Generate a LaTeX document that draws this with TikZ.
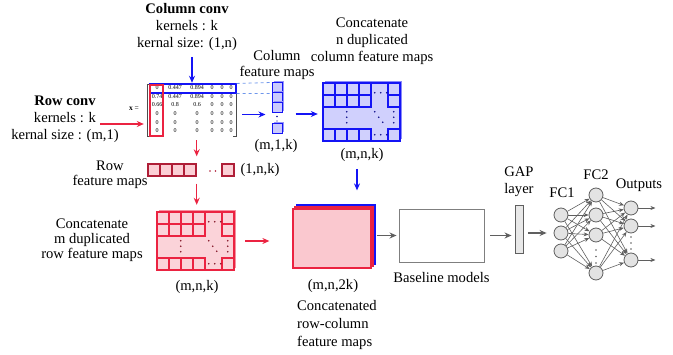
\documentclass[tikz,border=0pt]{standalone}
\usepackage{fontspec}
\setmainfont{Liberation Serif}
\usetikzlibrary{arrows.meta,shadows}

\definecolor{colblue}{RGB}{20,20,245}
\definecolor{rowred}{RGB}{235,35,65}
\definecolor{rowdark}{RGB}{175,30,55}
\definecolor{dashblue}{RGB}{110,150,235}
\definecolor{netgray}{RGB}{95,95,95}

\begin{document}
\begin{tikzpicture}[x=1pt, y=-1pt,
    font=\fontsize{14.6}{17}\selectfont,
    txt/.style={align=center, inner sep=0pt},
    blue arrow/.style={-{Stealth[length=7pt,width=6pt]}, colblue, line width=1.5pt},
    red arrow/.style={-{Stealth[length=7pt,width=6pt]}, rowred, line width=1.5pt},
    gray arrow/.style={-{Stealth[length=7pt,width=6pt]}, netgray, line width=1.5pt},
    num/.style={font=\fontsize{6}{7}\selectfont, inner sep=0pt},
    colcell/.style={draw=colblue, fill=colblue!22, line width=1pt, minimum size=10pt, inner sep=0pt,
        general shadow={fill=colblue!45, shadow xshift=1.5pt, shadow yshift=1.5pt}},
    rowcell/.style={draw=rowdark, fill=rowred!22, line width=1.4pt, minimum size=12pt, inner sep=0pt},
    blockarea/.style={minimum width=77pt, minimum height=58pt, inner sep=0pt},
    stack/.style={line width=1.2pt, minimum width=78pt, minimum height=59pt, inner sep=0pt},
    neuron/.style={circle, draw=netgray, fill=gray!22, line width=0.8pt, minimum size=14pt, inner sep=0pt},
    nnedge/.style={-{Stealth[length=5pt,width=4pt]}, netgray, line width=0.6pt},
    pics/featblock/.style={code={
        \fill[#1!50] (2,-2) rectangle (79,56);
        \fill[#1!20] (0,0) rectangle (77,58);
        \foreach \r in {0,12,46}
            \foreach \c in {0,12,24,36,65}
                \draw[#1, line width=1.7pt] (\c,\r) rectangle ++(12,12);
        \draw[#1, line width=1.7pt] (0,0) rectangle (77,58);
        \foreach \p in {(52,10),(58,10),(64,10),(52,52),(58,52),(64,52),
                        (24,29),(24,34.5),(24,40),(52,29),(56,34.5),(60,39.5),
                        (71,29),(71,34.5),(71,40)}
            \fill[#1!55!black] \p circle (0.9pt);
    }}]
\useasboundingbox (0,0) rectangle (673,355);

% Input matrix
\node (mat) [minimum width=88pt, minimum height=51pt, inner sep=0pt] at (192,110.5) {};
\draw[black!70, line width=0.7pt] ([xshift=3pt]mat.north west) -| (mat.south west) -- ++(3,0);
\draw[black!70, line width=0.7pt] ([xshift=-3pt]mat.north east) -| (mat.south east) -- ++(-3,0);
\foreach \y/\a/\b/\c [count=\i] in {88/0/0.447/0.894, 96.5/0.74/0.447/0.894, 105/0.66/0.8/0.6,
                                      114/0/0/0, 122.5/0/0/0, 131/0/0/0}
    \foreach \x/\v [count=\j] in {157/\a,175/\b,197/\c,212/0,222/0,231/0}
        \node[num] (m-\i-\j) at (\x,\y) {\v};
\node (xlbl) [font=\fontsize{7.5}{8}\selectfont, inner sep=0pt] at (134,109) {\textbf{x} =};
\node (rowbox) [draw=colblue, line width=1.1pt, minimum width=86pt, minimum height=9pt, inner sep=0pt] at (193,88.5) {};
\node (colbox) [draw=rowred, line width=1.1pt, minimum width=13pt, minimum height=51pt, inner sep=0pt] at (156.5,110.5) {};

% Column conv
\node[txt] (colconv) at (187,27) {\textbf{Column conv}\\kernels : k\\kernal size: (1,n)};
\draw[blue arrow, shorten <=6pt, shorten >=2pt] (colconv.south -| mat.north) -- (mat.north);

% Row conv
\node[txt] (rowconv) at (65,119.5) {\textbf{Row conv}\\kernels : k\\kernal size : (m,1)};
\coordinate (rowin) at (100,124);
\draw[red arrow, shorten >=4pt] (rowin) -- (rowin -| mat.west);

% Column feature maps
\node[colcell] (cm1) at (277,88) {};
\node[colcell] (cm2) at (277,98) {};
\node[colcell] (cm3) at (277,108) {};
\node[colcell] (cm4) at (277,129) {};
\fill[colblue!60!black] (277,116.5) circle (0.8pt) (277,121) circle (0.6pt);
\node[txt, font=\fontsize{14.6}{16}\selectfont] (cmlbl) at (277,65) {Column\\feature maps};
\node[txt] (cmsize) at (276,146) {(m,1,k)};
\draw[dashblue, dashed, line width=0.8pt] (rowbox.north east) -- (cm1.north west);
\draw[dashblue, dashed, line width=0.8pt] (rowbox.south east) -- (cm1.south west);
\draw[blue arrow, shorten <=6pt, shorten >=6pt] ([yshift=-4pt]mat.east) -- ([yshift=-4pt]mat.east -| cm1.west);

% n duplicated column maps
\node[blockarea] (colblk) at (361.5,112) {};
\pic at (colblk.north west) {featblock=colblue};
\draw[blue arrow, shorten <=13pt, shorten >=5pt] ([yshift=-2pt]colblk.west -| cm1.east) -- ([yshift=-2pt]colblk.west);
\node[txt] (colblklbl) at (372,41) {Concatenate\\n duplicated\\column feature maps};
\node[txt] (colblksize) at (362,155) {(m,n,k)};

% Row feature maps
\foreach \x [count=\i] in {154,166,178,190}
    \node[rowcell] (rm\i) at (\x,170) {};
\node[rowcell] (rm5) at (228,170) {};
\fill[rowdark] (210,171) circle (0.8pt) (215.5,171) circle (0.8pt);
\node[txt, font=\fontsize{14.6}{15}\selectfont] (rmlbl) at (110,174.5) {Row\\feature maps};
\node[txt] (rmsize) at (260,170) {(1,n,k)};
\draw[red arrow, shorten <=4pt, shorten >=7pt] (mat.south -| rm4.east) -- (rm4.north east);

% m duplicated row maps
\node[blockarea] (rowblk) at (195.5,241) {};
\pic at (rowblk.north west) {featblock=rowred};
\draw[red arrow, shorten <=7pt, shorten >=7pt] (rm4.south east) -- (rm4.south east |- rowblk.north);
\node[txt, font=\fontsize{14.6}{15}\selectfont] (rowblklbl) at (92,240) {Concatenate\\m duplicated\\row feature maps};
\node[txt] (rowblksize) at (197,287) {(m,n,k)};

% Concatenated row-column maps
\node[stack, draw=colblue, fill=colblue!45] (concatb) at (336,234.5) {};
\node[stack, draw=rowred, fill=rowred!25] (concatm) at (334,236.5) {};
\node[stack, draw=rowred, fill=rowred!25] (concat) at (332,238.5) {};
\draw[red arrow, shorten <=11pt, shorten >=23pt] (rowblk.east) -- (rowblk.east -| concat.west);
\coordinate (cdown) at (357,169);
\draw[blue arrow, shorten >=14pt] (cdown) -- (cdown |- concatb.north);
\node[txt] (concatsize) at (333,286) {(m,n,2k)};
\node[txt, align=left, anchor=west, font=\fontsize{14.6}{18}\selectfont] (concatlbl) at (297,325) {Concatenated\\row-column\\feature maps};

% Baseline models
\node[draw=netgray!80, line width=0.9pt, minimum width=85pt, minimum height=53pt, inner sep=0pt] (base) at (441.5,235.5) {};
\node[txt] (baselbl) at (441.5,278) {Baseline models};
\draw[gray arrow, shorten <=5pt, shorten >=2pt] (concat.east |- base.west) -- (base.west);

% GAP layer
\node[draw=netgray, fill=gray!18, line width=0.9pt, minimum width=8pt, minimum height=48pt, inner sep=0pt] (gap) at (519,229) {};
\node[txt] (gaplbl) at (519,182) {GAP\\layer};
\draw[gray arrow, shorten <=6pt, shorten >=3pt] (base.east) -- (base.east -| gap.west);

% FC1, FC2, outputs
\foreach \y [count=\i] in {215,233,251}
    \node[neuron] (a\i) at (561,\y) {};
\foreach \y [count=\i] in {195,215,235,273}
    \node[neuron] (b\i) at (596,\y) {};
\foreach \y [count=\i] in {208,226,260}
    \node[neuron] (c\i) at (631,\y) {};
\fill[netgray] (596,250) circle (0.8pt) (596,256.5) circle (0.8pt) (596,263) circle (0.8pt);
\fill[netgray] (631,237) circle (0.8pt) (631,243) circle (0.8pt) (631,249) circle (0.8pt);
\foreach \i in {1,2,3}
    \foreach \j in {1,...,4}
        \draw[nnedge] (a\i) -- (b\j);
\foreach \i in {1,...,4}
    \foreach \j in {1,2,3}
        \draw[nnedge] (b\i) -- (c\j);
\foreach \j in {1,2,3}
    \draw[nnedge] (c\j.east) -- ++(17,0);
\draw[gray arrow, shorten <=5pt, shorten >=7pt] (gap.east |- a2) -- (a2);
\node[txt] (fc1lbl) at (562,193) {FC1};
\node[txt] (fc2lbl) at (596,175) {FC2};
\node[txt] (outlbl) at (639,185) {Outputs};
\end{tikzpicture}
\end{document}
